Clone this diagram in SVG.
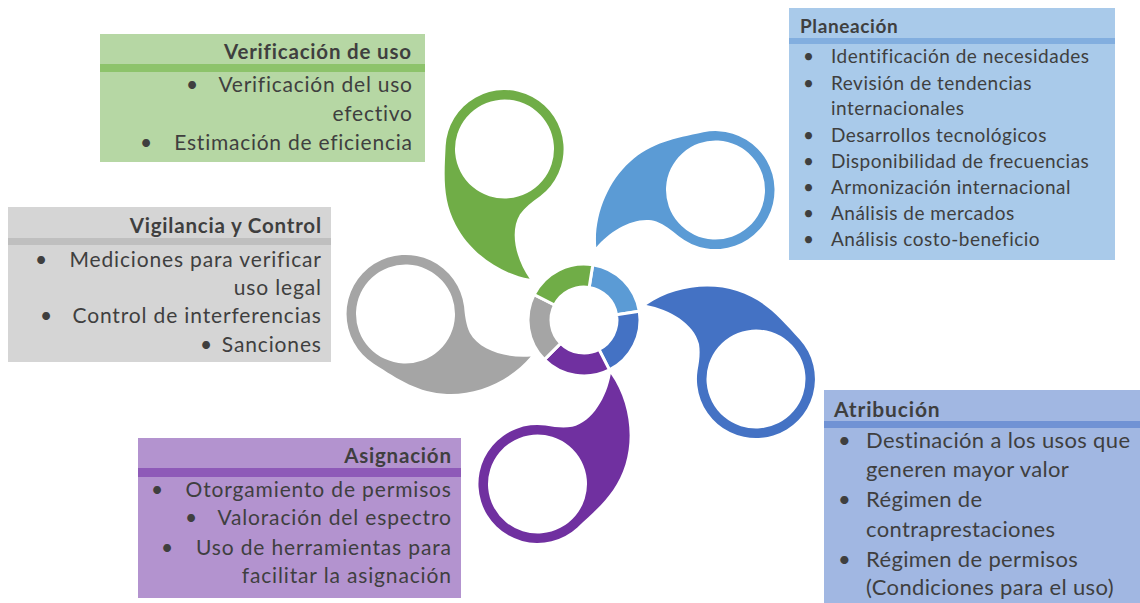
<svg xmlns="http://www.w3.org/2000/svg" width="1140" height="603" viewBox="0 0 1140 603">
<style>
.t{font-family:Lato,"Liberation Sans",sans-serif;fill:#3F3F3F}
.h{font-weight:bold}
.e{text-anchor:end}
.petal{fill-rule:evenodd}
.seg{stroke:#FFFFFF;stroke-width:3}
</style>
<defs>
<path id="pt" d="M -51 -29.5 C -66 -3.5 -78 16 -78 45 C -78 75 -62 108 -37 127 C -40 104 -34 76 -16 65 C -8 61 0 59.5 10 58.2 A 59 59 0 1 0 -51 -29.5 Z M 49.5 0 A 49.5 49.5 0 1 0 -49.5 0 A 49.5 49.5 0 1 0 49.5 0 Z"/>
</defs>
<rect width="1140" height="603" fill="#FFFFFF"/>

<g id="petals">
<use id="petal-verificacion" href="#pt" class="petal" fill="#70AD47" transform="translate(504.5,149) rotate(-27.2)"/>
<use id="petal-planeacion" href="#pt" class="petal" fill="#5B9BD5" transform="translate(715.5,190) rotate(48.1)"/>
<use id="petal-atribucion" href="#pt" class="petal" fill="#4472C4" transform="translate(756,379) rotate(107.8)"/>
<use id="petal-asignacion" href="#pt" class="petal" fill="#7030A0" transform="translate(537.5,484) rotate(-162.6)"/>
<use id="petal-vigilancia" href="#pt" class="petal" fill="#A5A5A5" transform="translate(405.5,314) rotate(-87.5)"/>
</g>

<g id="hub">
<path class="seg" fill="#5B9BD5" d="M 592.76 264.69 A 56 56 0 0 1 639.31 311.24 L 616.59 314.84 A 33 33 0 0 0 589.16 287.41 Z"/>
<path class="seg" fill="#4472C4" d="M 639.31 311.24 A 56 56 0 0 1 609.42 369.90 L 598.98 349.40 A 33 33 0 0 0 616.59 314.84 Z"/>
<path class="seg" fill="#7030A0" d="M 609.42 369.90 A 56 56 0 0 1 544.40 359.60 L 560.67 343.33 A 33 33 0 0 0 598.98 349.40 Z"/>
<path class="seg" fill="#A5A5A5" d="M 544.40 359.60 A 56 56 0 0 1 534.10 294.58 L 554.60 305.02 A 33 33 0 0 0 560.67 343.33 Z"/>
<path class="seg" fill="#70AD47" d="M 534.10 294.58 A 56 56 0 0 1 592.76 264.69 L 589.16 287.41 A 33 33 0 0 0 554.60 305.02 Z"/>
</g>

<g id="box-verificacion">
<rect x="100" y="34" width="325" height="128" fill="#B6D7A4"/>
<rect x="100" y="64" width="325" height="8" fill="#8DC36B"/>
<text class="t h e" x="411.8" y="59" font-size="20.5" letter-spacing="0.8">Verificación de uso</text>
<g class="t" font-size="21" letter-spacing="0.75">
<text x="186" y="92">•</text>
<text class="e" x="412.7" y="92">Verificación del uso</text>
<text class="e" x="412.7" y="121">efectivo</text>
<text x="140" y="150">•</text>
<text class="e" x="412.7" y="150">Estimación de eficiencia</text>
</g>
</g>

<g id="box-planeacion">
<rect x="789" y="8" width="326" height="252" fill="#A9CAEA"/>
<rect x="789" y="38" width="326" height="6" fill="#82AEDF"/>
<text class="t h" x="800" y="33" font-size="19" letter-spacing="0.6">Planeación</text>
<g class="t" font-size="19" letter-spacing="0.5">
<text x="803" y="63">•</text><text x="831" y="63">Identificación de necesidades</text>
<text x="803" y="90">•</text><text x="831" y="90">Revisión de tendencias</text>
<text x="831" y="115">internacionales</text>
<text x="803" y="142">•</text><text x="831" y="142">Desarrollos tecnológicos</text>
<text x="803" y="168">•</text><text x="831" y="168">Disponibilidad de frecuencias</text>
<text x="803" y="194">•</text><text x="831" y="194">Armonización internacional</text>
<text x="803" y="220">•</text><text x="831" y="220">Análisis de mercados</text>
<text x="803" y="246">•</text><text x="831" y="246">Análisis costo-beneficio</text>
</g>
</g>

<g id="box-vigilancia">
<rect x="8" y="207" width="323" height="155" fill="#D5D5D5"/>
<rect x="8" y="238" width="323" height="7" fill="#BFBFBF"/>
<text class="t h e" x="321.8" y="233" font-size="20.5" letter-spacing="0.8">Vigilancia y Control</text>
<g class="t" font-size="21" letter-spacing="0.85">
<text x="35" y="267">•</text>
<text class="e" x="321.8" y="267">Mediciones para verificar</text>
<text class="e" x="321.8" y="295">uso legal</text>
<text x="40" y="323">•</text>
<text class="e" x="321.8" y="323">Control de interferencias</text>
<text x="200" y="352">•</text>
<text class="e" x="321.8" y="352">Sanciones</text>
</g>
</g>

<g id="box-asignacion">
<rect x="138" y="438" width="323" height="160" fill="#B393CF"/>
<rect x="138" y="468" width="323" height="9" fill="#8E5AB8"/>
<text class="t h e" x="451.8" y="463" font-size="20.5" letter-spacing="0.8">Asignación</text>
<g class="t" font-size="21" letter-spacing="0.85">
<text x="151" y="497">•</text>
<text class="e" x="451.8" y="497">Otorgamiento de permisos</text>
<text x="185" y="525">•</text>
<text class="e" x="451.8" y="525">Valoración del espectro</text>
<text x="161" y="555">•</text>
<text class="e" x="451.8" y="555">Uso de herramientas para</text>
<text class="e" x="451.8" y="583">facilitar la asignación</text>
</g>
</g>

<g id="box-atribucion">
<rect x="824" y="390" width="316" height="213" fill="#A1B7E2"/>
<rect x="824" y="421" width="316" height="7" fill="#7092D4"/>
<text class="t h" x="834" y="417" font-size="21" letter-spacing="0.85">Atribución</text>
<g class="t" font-size="22" letter-spacing="0.35">
<text x="838" y="448">•</text><text x="866" y="448">Destinación a los usos que</text>
<text x="866" y="477">generen mayor valor</text>
<text x="838" y="507">•</text><text x="866" y="507">Régimen de</text>
<text x="866" y="537">contraprestaciones</text>
<text x="838" y="567">•</text><text x="866" y="567">Régimen de permisos</text>
<text x="866" y="595">(Condiciones para el uso)</text>
</g>
</g>
</svg>
